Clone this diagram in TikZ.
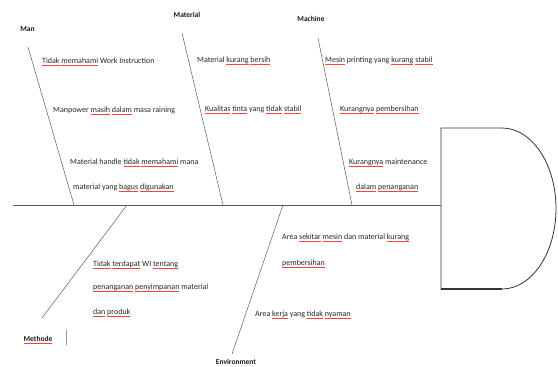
\documentclass[tikz,border=0pt]{standalone}
\usepackage{fontspec}
\setmainfont{Carlito}
\usepackage{xcolor}
\usepackage{tikz}
\usetikzlibrary{positioning}

% red spell-check mark under a word
\newsavebox\sqbox
\newcommand\sq[1]{\sbox\sqbox{#1}\rlap{\raisebox{-1.8pt}{\textcolor{red!75}{\rule{\wd\sqbox}{0.4pt}}}}\usebox\sqbox}

\begin{document}
\begin{tikzpicture}[
    x=1pt, y=-1pt,
    cause/.style={anchor=west, inner sep=0pt, font=\fontsize{8}{9}\selectfont, text=black!85},
    category/.style={inner sep=0pt, font=\bfseries\fontsize{7.5}{9}\selectfont, text=black!90},
    bone/.style={draw=black!65, line width=0.5pt},
    head/.style={draw=black!80, line width=0.8pt}
]
\useasboundingbox (0,0) rectangle (558,367);

% Spine and head
\coordinate (spineL) at (13,205);
\coordinate (spineR) at (441,205);
\draw[bone] (spineL) -- (spineR);
\draw[head] (441,128) -- (502,128) arc[start angle=90, end angle=-90, x radius=54pt, y radius=80.5pt] -- (441,289) -- cycle;
\draw[head, line width=1.3pt] (441,289) -- (502,289);

% Top side - Man
\node[category] (man) at (27.5,29) {Man};
\coordinate (manTop) at (28,47);
\coordinate (manFoot) at (74,205);
\draw[bone] (manTop) -- (manFoot);
\node[cause] (man1) at (42,62) {\sq{Tidak} \sq{memahami} Work Instruction};
\node[cause] (man2) at (53,111) {Manpower \sq{masih} \sq{dalam} masa raining};
\node[cause] (man3) at (70,163) {Material handle \sq{tidak} \sq{memahami} mana};
\node[cause] (man4) at (73,188) {material yang \sq{bagus} \sq{digunakan}};

% Top side - Material
\node[category] (material) at (187,15) {Material};
\coordinate (matTop) at (182,33);
\coordinate (matFoot) at (223,205);
\draw[bone] (matTop) -- (matFoot);
\node[cause] (mat1) at (197,61) {Material \sq{kurang} \sq{bersih}};
\node[cause] (mat2) at (205,110) {\sq{Kualitas} \sq{tinta} yang \sq{tidak} \sq{stabil}};

% Top side - Machine
\node[category] (machine) at (311,19) {Machine};
\coordinate (macTop) at (318,38);
\coordinate (macFoot) at (352,205);
\draw[bone] (macTop) -- (macFoot);
\node[cause] (mac1) at (325,61) {\sq{Mesin} printing yang \sq{kurang} \sq{stabil}};
\node[cause] (mac2) at (340,110) {\sq{Kurangnya} \sq{pembersihan}};
\node[cause] (mac3) at (349,163) {\sq{Kurangnya} maintenance};
\node[cause] (mac4) at (356,188) {\sq{dalam} \sq{penanganan}};

% Bottom side - Methode
\node[category] (methode) at (38,340) {\sq{Methode}};
\coordinate (metFoot) at (127,205);
\coordinate (metEnd) at (42,318);
\draw[bone] (metFoot) -- (metEnd);
\coordinate (barTop) at (66,330);
\coordinate (barBot) at (66,345);
\draw[bone, draw=black!40] (barTop) -- (barBot);
\node[cause] (met1) at (93,265) {\sq{Tidak} \sq{terdapat} WI \sq{tentang}};
\node[cause] (met2) at (93,288) {\sq{penanganan} \sq{penyimpanan} material};
\node[cause] (met3) at (93,313) {\sq{dan} \sq{produk}};

% Bottom side - Environment
\node[category] (environment) at (236,362) {Environment};
\coordinate (envFoot) at (283,205);
\coordinate (envEnd) at (232,354);
\draw[bone] (envFoot) -- (envEnd);
\node[cause] (env1) at (282,238) {Area \sq{sekitar} \sq{mesin} dan material \sq{kurang}};
\node[cause] (env2) at (282,264) {\sq{pembersihan}};
\node[cause] (env3) at (255,315) {Area \sq{kerja} yang \sq{tidak} \sq{nyaman}};

\end{tikzpicture}
\end{document}
